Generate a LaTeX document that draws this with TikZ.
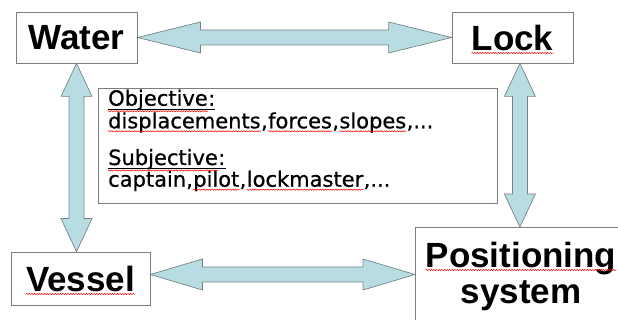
\documentclass[tikz,border=0pt]{standalone}
\usepackage{fontspec}
\setmainfont{Liberation Sans}
\newfontfamily\notefont[FakeBold=0.7]{DejaVu Sans}
\usepackage{xcolor}
\usepackage{tikz}
\usetikzlibrary{calc,decorations.pathmorphing}

\definecolor{arrowfill}{RGB}{183,221,227}
\definecolor{arrowedge}{RGB}{118,132,138}
\definecolor{boxedge}{RGB}{125,125,125}

\tikzset{
  frame/.style={draw=boxedge, line width=0.8pt, inner sep=0pt},
  bigtext/.style={inner sep=0pt, font=\fontsize{35}{36}\selectfont\bfseries},
  notetext/.style={anchor=base west, inner sep=0pt, font=\notefont\fontsize{21}{22}\selectfont},
  noteline/.style={line width=1.1pt},
  spellwave/.style={red, line width=0.5pt, decorate,
    decoration={snake, amplitude=0.6pt, segment length=2.6pt}},
  blockarrow/.style={draw=arrowedge, fill=arrowfill, line width=0.7pt, line join=miter}
}

\newcommand{\hconn}[3]{%
  \draw[blockarrow] (#1) -- ($(#1)+(#3,15.5)$) -- ($(#1)+(#3,7.5)$) -- ($(#2)+(-#3,7.5)$)
    -- ($(#2)+(-#3,15.5)$) -- (#2) -- ($(#2)+(-#3,-15.5)$) -- ($(#2)+(-#3,-7.5)$)
    -- ($(#1)+(#3,-7.5)$) -- ($(#1)+(#3,-15.5)$) -- cycle;}
\newcommand{\vconn}[3]{%
  \draw[blockarrow] (#1) -- ($(#1)+(15.5,#3)$) -- ($(#1)+(7.5,#3)$) -- ($(#2)+(7.5,-#3)$)
    -- ($(#2)+(15.5,-#3)$) -- (#2) -- ($(#2)+(-15.5,-#3)$) -- ($(#2)+(-7.5,-#3)$)
    -- ($(#1)+(-7.5,#3)$) -- ($(#1)+(-15.5,#3)$) -- cycle;}

\begin{document}
\begin{tikzpicture}[x=1pt,y=-1pt]
\useasboundingbox (0,0) rectangle (618,320);

\node[bigtext] (watertxt) at (76.5,37.5) {Water};
\node[frame, minimum width=121pt, minimum height=51pt] (water) at (watertxt) {};
\node[bigtext] (locktxt) at (512.5,37.5) {Lock};
\node[frame, minimum width=121pt, minimum height=51pt] (lock) at (locktxt) {};
\node[bigtext] (vesseltxt) at (80.5,278.5) {Vessel};
\node[frame, minimum width=139pt, minimum height=53pt] (vessel) at (vesseltxt) {};
\node[frame, anchor=north west, minimum width=209pt, minimum height=110pt] (posit) at (415,227) {};
\node[bigtext, anchor=base] (postxt) at (521,267) {Positioning};
\node[bigtext, anchor=base] (systxt) at (521,303) {system};

\node[frame, anchor=north west, minimum width=399pt, minimum height=115pt] (info) at (98,88) {};
\node[notetext] (obj) at (108,105.7) {Objective};
\node[notetext] (objc) at (obj.base east) {:};
\node[notetext] (disp) at (108,128.3) {displacements};
\node[notetext] (c1) at (disp.base east) {,};
\node[notetext] (forc) at (c1.base east) {forces};
\node[notetext] (c2) at (forc.base east) {,};
\node[notetext] (slop) at (c2.base east) {slopes};
\node[notetext] (c3) at (slop.base east) {,...};
\node[notetext] (subj) at (108,165) {Subjective};
\node[notetext] (subjc) at (subj.base east) {:};
\node[notetext] (capt) at (108,186.7) {captain,};
\node[notetext] (pilo) at (capt.base east) {pilot};
\node[notetext] (c4) at (pilo.base east) {,};
\node[notetext] (lockm) at (c4.base east) {lockmaster};
\node[notetext] (c5) at (lockm.base east) {,...};

\draw[noteline] ([yshift=-3.5pt]obj.base west) -- ([yshift=-3.5pt]objc.base east);
\draw[noteline] ([yshift=-3.5pt]subj.base west) -- ([yshift=-3.5pt]subjc.base east);
\foreach \w in {obj,subj}
  \draw[spellwave] ([yshift=-5.5pt]\w.base west) -- ([yshift=-5.5pt]\w.base east);
\foreach \w in {locktxt,vesseltxt,postxt,disp,forc,slop,pilo,lockm}
  \draw[spellwave] ([yshift=-3pt]\w.base west) -- ([yshift=-3pt]\w.base east);

\coordinate (vesselout) at ([yshift=4pt]vessel.east);
\hconn{water.east}{lock.west}{63}
\hconn{vesselout}{vesselout -| posit.west}{52}
\vconn{water.south}{water.south |- vessel.north}{33}
\vconn{posit.north |- lock.south}{posit.north}{33}
\end{tikzpicture}
\end{document}
